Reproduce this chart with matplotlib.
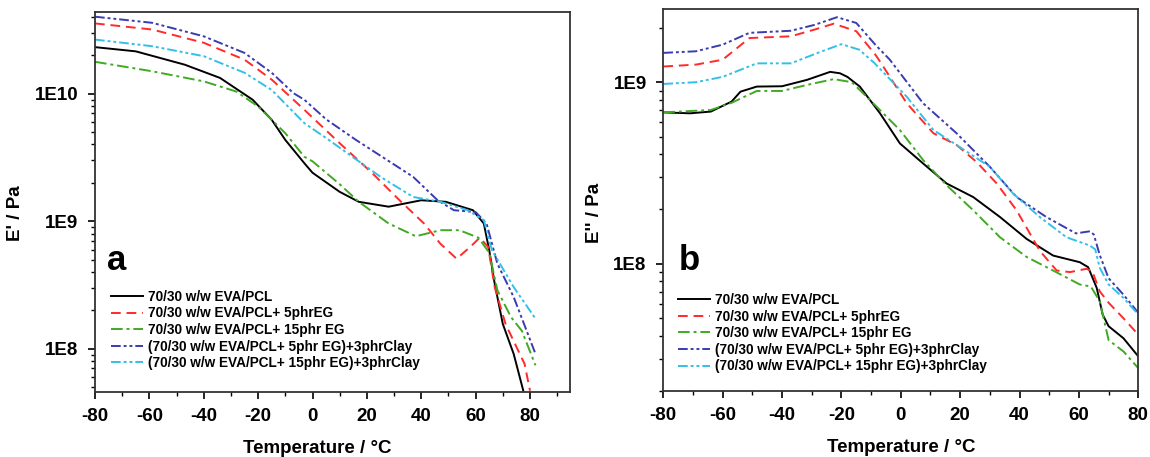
import numpy as np
import matplotlib
matplotlib.use("Agg")
import matplotlib.pyplot as plt
from matplotlib.ticker import FixedLocator, FuncFormatter, LogLocator, NullFormatter, MultipleLocator

labels = ["70/30 w/w EVA/PCL",
          "70/30 w/w EVA/PCL+ 5phrEG",
          "70/30 w/w EVA/PCL+ 15phr EG",
          "(70/30 w/w EVA/PCL+ 5phr EG)+3phrClay",
          "(70/30 w/w EVA/PCL+ 15phr EG)+3phrClay"]

# ---- Panel a: storage modulus E' (Pa) ----
a_black_T = [-80, -65, -47, -34, -22, -15, -10, -3, 0, 10, 17, 28, 40, 49, 59, 63, 65, 67, 70, 74, 77.5]
a_black_E = [2.32e10, 2.15e10, 1.69e10, 1.33e10, 8.97e9, 6.24e9, 4.34e9, 2.85e9, 2.4e9, 1.7e9, 1.42e9,
             1.30e9, 1.46e9, 1.42e9, 1.22e9, 9.6e8, 5.92e8, 3.24e8, 1.56e8, 9.08e7, 4.7e7]
a_red_T = [-80, -59, -40, -25, -15, -3, 10, 22, 32, 41, 47, 53, 58, 61.5, 64.6, 67, 71, 78, 80]
a_red_E = [3.56e10, 3.19e10, 2.51e10, 1.85e10, 1.29e10, 7.48e9, 4.09e9, 2.38e9, 1.46e9, 9.6e8, 6.67e8,
           5.08e8, 6.28e8, 7.43e8, 6.28e8, 3.04e8, 1.56e8, 7.59e7, 4.68e7]
a_green_T = [-80, -59, -40, -28, -20, -10, -3, 0, 10, 17, 28, 38, 47, 54, 61, 65, 68, 73, 77, 82]
a_green_E = [1.78e10, 1.50e10, 1.25e10, 1.04e10, 7.94e9, 4.9e9, 3.2e9, 2.95e9, 1.95e9, 1.42e9, 9.6e8,
             7.62e8, 8.5e8, 8.5e8, 7.43e8, 5.66e8, 2.87e8, 1.77e8, 1.38e8, 7.41e7]
a_navy_T = [-80, -59, -40, -25, -15, -7, -3, 5, 16, 37, 46, 52, 60, 64, 68, 74, 82]
a_navy_E = [4.02e10, 3.6e10, 2.82e10, 2.09e10, 1.46e10, 1.01e10, 8.97e9, 6.3e9, 4.34e9, 2.23e9, 1.46e9,
            1.22e9, 1.18e9, 9.6e8, 4.64e8, 2.54e8, 9.12e7]
a_cyan_T = [-80, -59, -40, -25, -15, -3, 6, 25, 37, 47, 57, 63, 66, 74, 82]
a_cyan_E = [2.66e10, 2.36e10, 1.97e10, 1.46e10, 1.07e10, 5.88e9, 4.34e9, 2.23e9, 1.55e9, 1.42e9, 1.22e9,
            1.02e9, 5.92e8, 3.04e8, 1.72e8]

# ---- Panel b: loss modulus E'' (Pa) ----
b_black_T = [-80, -71, -64, -57, -54, -48.5, -40, -31.6, -23.8, -20.5, -18, -13.8, -7, -0.3, 7.5, 15.4,
             24.4, 33.4, 42.4, 51.3, 60.3, 63.1, 66, 68, 70, 75, 80]
b_black_E = [6.82e8, 6.74e8, 6.89e8, 7.82e8, 8.87e8, 9.46e8, 9.5e8, 1.03e9, 1.14e9, 1.12e9, 1.07e9,
             9.46e8, 6.74e8, 4.6e8, 3.57e8, 2.77e8, 2.33e8, 1.81e8, 1.37e8, 1.11e8, 1.02e8, 9.58e7,
             7.36e7, 5.25e7, 4.53e7, 3.89e7, 3.09e7]
b_red_T = [-80, -69, -60, -51, -37, -29, -22.6, -15, -8.6, -7, 2, 11, 18.8, 25.5, 32.3, 39, 46.8, 52.5,
           57, 62.5, 64.5, 67, 70, 75, 80]
b_red_E = [1.22e9, 1.25e9, 1.33e9, 1.75e9, 1.79e9, 1.95e9, 2.10e9, 1.91e9, 1.42e9, 1.30e9, 7.66e8,
           5.23e8, 4.51e8, 3.64e8, 2.77e8, 1.97e8, 1.18e8, 9.18e7, 9.0e7, 9.38e7, 9.1e7, 7.06e7, 6.10e7,
           5.01e7, 4.07e7]
b_green_T = [-80, -64, -57, -48.5, -40, -31.6, -22.6, -16.5, -10.4, -0.3, 7.5, 15.4, 24.4, 33.4, 42.4,
             51.3, 60.3, 64, 67, 70, 75, 80]
b_green_E = [6.82e8, 7.03e8, 7.7e8, 8.95e8, 8.95e8, 9.66e8, 1.04e9, 1.0e9, 7.98e8, 5.45e8, 3.73e8,
             2.71e8, 1.97e8, 1.40e8, 1.09e8, 9.18e7, 7.69e7, 7.5e7, 6.22e7, 3.80e7, 3.29e7, 2.66e7]
b_navy_T = [-80, -69, -60, -51, -37, -29, -21.5, -15, -8.6, -3.7, 7.5, 18.8, 30, 39, 49, 59, 63.7, 65,
            67, 70, 75, 80]
b_navy_E = [1.45e9, 1.48e9, 1.61e9, 1.87e9, 1.92e9, 2.07e9, 2.28e9, 2.12e9, 1.61e9, 1.33e9, 7.66e8,
            5.23e8, 3.42e8, 2.33e8, 1.81e8, 1.47e8, 1.51e8, 1.45e8, 1.12e8, 8.32e7, 6.76e7, 5.37e7]
b_cyan_T = [-80, -69, -60, -48.5, -37, -28, -20, -14, -9, 2, 11, 18.8, 30, 37.8, 46.8, 55.8, 63.7, 65.5,
            67, 70, 75, 80]
b_cyan_E = [9.78e8, 1.0e9, 1.07e9, 1.27e9, 1.27e9, 1.45e9, 1.62e9, 1.51e9, 1.28e9, 8.32e8, 5.45e8,
            4.51e8, 3.42e8, 2.44e8, 1.81e8, 1.40e8, 1.26e8, 1.2e8, 9.51e7, 7.69e7, 6.49e7, 5.25e7]

x_ticks = [-80, -60, -40, -20, 0, 20, 40, 60, 80]

styles = [dict(color="black", linestyle="-"),
          dict(color="#ff2a2a", linestyle=(0, (5, 3))),
          dict(color="#3faa22", linestyle=(0, (6, 2, 1.5, 2))),
          dict(color="#3b3bb0", linestyle=(0, (5, 1.5, 1.5, 1.5, 1.5, 1.5))),
          dict(color="#33c0e8", linestyle=(0, (5, 1.5, 1.5, 1.5, 1.5, 1.5)))]

plt.rcParams['font.family'] = ['Liberation Sans', 'DejaVu Sans']
plt.rcParams['font.weight'] = 'bold'
plt.rcParams['axes.unicode_minus'] = False

fig = plt.figure(figsize=(11.5, 4.57), dpi=100)
ax_a = fig.add_axes([95 / 1150, 1 - 391.7 / 457, 475 / 1150, 380 / 457])
ax_b = fig.add_axes([663.3 / 1150, 1 - 390.7 / 457, 475 / 1150, 381.7 / 457])


def sci_fmt(v, pos):
    return "1E%d" % int(round(np.log10(v)))


def setup(ax, xlim, ylim, ylabel, letter, letter_pos, ylab_pos, xlab_pos, leg_pos, data):
    for (T, E), st, lab in zip(data, styles, labels):
        ax.plot(T, E, lw=1.4, label=lab, **st)
    ax.set_yscale("log")
    ax.set_xlim(*xlim)
    ax.set_ylim(*ylim)
    ax.xaxis.set_major_locator(FixedLocator(x_ticks))
    ax.xaxis.set_minor_locator(MultipleLocator(10))
    ax.yaxis.set_major_locator(LogLocator(base=10, numticks=10))
    ax.yaxis.set_minor_locator(LogLocator(base=10, subs=np.arange(2, 10), numticks=20))
    ax.yaxis.set_major_formatter(FuncFormatter(sci_fmt))
    ax.yaxis.set_minor_formatter(NullFormatter())
    ax.tick_params(which="major", direction="out", length=5, width=1.2, labelsize=13.5, pad=7)
    ax.tick_params(which="minor", direction="out", length=3, width=1.0)
    for lbl in ax.get_xticklabels() + ax.get_yticklabels():
        lbl.set_fontweight("bold")
    for sp in ax.spines.values():
        sp.set_linewidth(1.3)
        sp.set_color("#333333")
    ax.set_xlabel("Temperature / °C", fontsize=13.5, fontweight="bold")
    ax.xaxis.set_label_coords(*xlab_pos)
    ax.set_ylabel(ylabel, fontsize=13.5, fontweight="bold")
    ax.yaxis.set_label_coords(*ylab_pos)
    ax.text(letter_pos[0], letter_pos[1], letter, transform=ax.transAxes, fontsize=25,
            fontweight="bold", ha="left", va="baseline")
    ax.legend(loc="upper left", bbox_to_anchor=leg_pos, frameon=False, borderpad=0,
              borderaxespad=0, handlelength=2.35, handletextpad=0.37, labelspacing=0.19,
              prop=dict(size=9.8, weight="bold"))


setup(ax_a, (-80, 94.7), (4.6e7, 4.4e10), "E' / Pa", "a", (0.025, 0.32),
      (-0.149, 0.47), (0.468, -0.127), (0.034, 0.268),
      [(a_black_T, a_black_E), (a_red_T, a_red_E), (a_green_T, a_green_E),
       (a_navy_T, a_navy_E), (a_cyan_T, a_cyan_E)])
setup(ax_b, (-80, 80), (2.0e7, 2.53e9), "E'' / Pa", "b", (0.033, 0.316),
      (-0.127, 0.466), (0.5, -0.127), (0.0316, 0.256),
      [(b_black_T, b_black_E), (b_red_T, b_red_E), (b_green_T, b_green_E),
       (b_navy_T, b_navy_E), (b_cyan_T, b_cyan_E)])

fig.savefig("out.png", dpi=100)
